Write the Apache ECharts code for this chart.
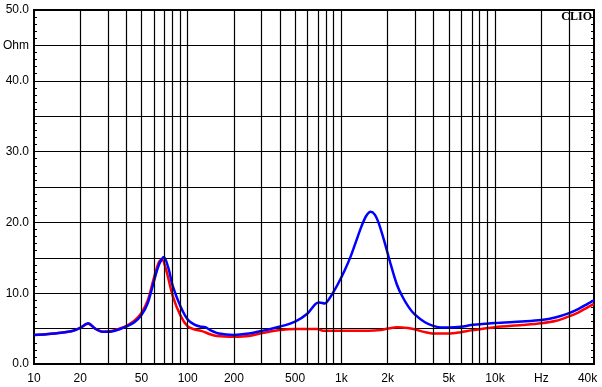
<!DOCTYPE html>
<html>
<head>
<meta charset="utf-8">
<script src="https://cdn.jsdelivr.net/npm/echarts@6/dist/echarts.min.js"></script>
<style>
  html, body { margin: 0; padding: 0; background: #fff; }
  #chart { width: 602px; height: 387px; }
</style>
</head>
<body>
<div id="chart"></div>
<script>
// frequency (Hz) and impedance (Ohm)
var blueFreq = [10, 12, 15, 18, 20, 22.5, 25, 28, 32, 36, 40, 45, 50, 55, 60, 65, 70, 75, 80, 90, 100, 110, 120, 130, 140, 160, 200, 250, 300, 400, 500, 600, 680, 720, 780, 850, 950, 1050, 1150, 1250, 1350, 1450, 1550, 1650, 1750, 1900, 2100, 2300, 2500, 2750, 3000, 3500, 4000, 4500, 5000, 6000, 7000, 8000, 10000, 15000, 20000, 25000, 30000, 35000, 40000, 44000];
var blueOhm  = [4.1, 4.2, 4.4, 4.7, 5.1, 5.75, 5.0, 4.55, 4.6, 4.9, 5.3, 5.9, 6.9, 8.6, 11.5, 14.0, 15.1, 13.5, 11.0, 8.1, 6.3, 5.6, 5.3, 5.2, 4.8, 4.3, 4.1, 4.3, 4.65, 5.3, 6.0, 7.1, 8.5, 8.7, 8.55, 9.5, 11.3, 13.2, 15.2, 17.4, 19.4, 20.9, 21.5, 21.1, 19.9, 17.4, 14.0, 11.2, 9.5, 8.0, 7.0, 5.9, 5.35, 5.15, 5.15, 5.25, 5.5, 5.6, 5.8, 6.0, 6.2, 6.6, 7.15, 7.8, 8.5, 9.0];

var redFreq = [10, 12, 15, 18, 20, 22.5, 25, 28, 32, 36, 40, 45, 50, 55, 60, 65, 68, 72, 80, 90, 100, 110, 124, 140, 155, 200, 250, 300, 400, 500, 700, 760, 1000, 1500, 1800, 2000, 2300, 2700, 3000, 3500, 4000, 5000, 6000, 7000, 10000, 15000, 20000, 25000, 30000, 35000, 40000, 44000];
var redOhm  = [4.1, 4.2, 4.4, 4.7, 5.1, 5.7, 5.0, 4.55, 4.65, 5.0, 5.4, 6.1, 7.2, 9.0, 12.0, 14.4, 14.8, 13.5, 9.6, 6.8, 5.3, 4.9, 4.65, 4.2, 3.95, 3.85, 3.95, 4.35, 4.8, 4.95, 4.95, 4.7, 4.7, 4.7, 4.8, 5.0, 5.2, 5.1, 4.9, 4.5, 4.3, 4.3, 4.5, 4.75, 5.2, 5.5, 5.75, 6.1, 6.7, 7.3, 8.0, 8.5];

// axis texts
var gridFreqs = [20, 30, 40, 50, 60, 70, 80, 90, 100, 200, 300, 400, 500, 600, 700, 800, 900,
                 1000, 2000, 3000, 4000, 5000, 6000, 7000, 8000, 9000, 10000, 20000, 30000];
var xTickFreqs  = [10, 20, 50, 100, 200, 500, 1000, 2000, 5000, 10000, 20000, 40000];
var xTickLabels = ['10', '20', '50', '100', '200', '500', '1k', '2k', '5k', '10k', 'Hz', '40k'];
var yTickLabels = {0: '0.0', 10: '10.0', 20: '20.0', 30: '30.0', 40: '40.0', 45: 'Ohm', 50: '50.0'};

var xMin = 1, xMax = 4.644;   // log10 of the frequency range

function pairs(f, v) {
  return f.map(function (x, i) { return [Math.log10(x), v[i]]; });
}

var labelOf = {};
xTickFreqs.forEach(function (f, i) { labelOf[f] = xTickLabels[i]; });

var chart = echarts.init(document.getElementById('chart'));
chart.setOption({
  animation: false,
  grid: { left: 31, right: 8, top: 10, bottom: 23, show: true, borderColor: '#000', borderWidth: 2 },
  xAxis: {
    type: 'value', min: xMin, max: xMax,
    splitLine: { show: false },
    axisTick: { show: false },
    axisLine: { lineStyle: { color: '#000', width: 2 } },
    axisLabel: {
      customValues: xTickFreqs.map(function (f) { return Math.log10(f); }),
      margin: 9, color: '#000', fontSize: 12, fontFamily: 'Liberation Sans, Arial',
      showMinLabel: true, showMaxLabel: true, hideOverlap: false,
      formatter: function (v) { return labelOf[Math.round(Math.pow(10, v))] || ''; }
    }
  },
  yAxis: [{
    type: 'value', min: 0, max: 50, interval: 5,
    axisLine: { show: true, lineStyle: { color: '#000', width: 2 } },
    axisTick: { show: true, inside: true, length: 3, lineStyle: { color: '#000' } },
    minorTick: { show: true, splitNumber: 5, length: 3, lineStyle: { color: '#000' } },
    splitLine: { show: true, lineStyle: { color: '#000', width: 1 } },
    axisLabel: {
      margin: 5, color: '#000', fontSize: 12, fontFamily: 'Liberation Sans, Arial',
      formatter: function (v) { return yTickLabels[v] || ''; }
    }
  }, {
    type: 'value', min: 0, max: 50, interval: 5, position: 'right',
    axisLine: { show: true, lineStyle: { color: '#000', width: 2 } },
    axisTick: { show: true, inside: true, length: 3, lineStyle: { color: '#000' } },
    minorTick: { show: true, splitNumber: 5, length: 3, lineStyle: { color: '#000' } },
    splitLine: { show: false },
    axisLabel: { show: false }
  }],
  graphic: [{
    type: 'text', right: 10, top: 11,
    style: { text: 'CLIO', font: 'bold 12px "Liberation Serif", serif', fill: '#000' }
  }],
  series: [{
    type: 'line', data: [], silent: true, z: 1,
    markLine: {
      silent: true, symbol: 'none', animation: false,
      label: { show: false },
      lineStyle: { color: '#000', width: 1.2, type: 'solid' },
      data: gridFreqs.map(function (f) { return { xAxis: Math.log10(f) }; })
    }
  }, {
    name: 'red', type: 'line', data: pairs(redFreq, redOhm), z: 3,
    smooth: 0.3, showSymbol: false,
    lineStyle: { color: '#ff0000', width: 2.5 }
  }, {
    name: 'blue', type: 'line', data: pairs(blueFreq, blueOhm), z: 4,
    smooth: 0.3, showSymbol: false,
    lineStyle: { color: '#0000ff', width: 2.5 }
  }]
});
</script>
</body>
</html>
